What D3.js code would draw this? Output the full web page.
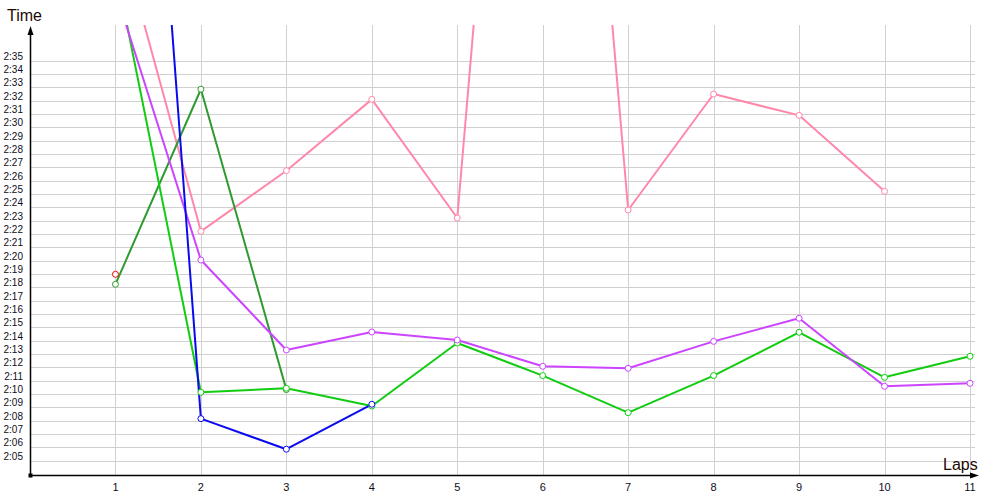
<!DOCTYPE html>
<html><head><meta charset="utf-8">
<script src="https://cdn.jsdelivr.net/npm/d3@7"></script>
<style>
html,body{margin:0;padding:0;background:#fff;}
svg{display:block;}
text{font-family:"Liberation Sans",Arial,sans-serif;}
</style></head>
<body>
<svg id="chart" width="1000" height="500"></svg>
<script>
// ---- data (lap times in seconds) ----
const laps = [1,2,3,4,5,6,7,8,9,10,11];
const yTickValues = [125,126,127,128,129,130,131,132,133,134,135,136,137,138,139,140,141,142,143,144,145,146,147,148,149,150,151,152,153,154,155];
const yTickLabels = ["2:05","2:06","2:07","2:08","2:09","2:10","2:11","2:12","2:13","2:14","2:15","2:16","2:17","2:18","2:19","2:20","2:21","2:22","2:23","2:24","2:25","2:26","2:27","2:28","2:29","2:30","2:31","2:32","2:33","2:34","2:35"];
const pinkTimes      = [165.6, 142.2, 146.75, 152.1, 143.2, 218.6, 143.8, 152.5, 150.9, 145.2, null];
const darkGreenTimes = [138.23, 152.86, 130.33, null, null, null, null, null, null, null, null];
const lightGreenTimes= [162.0, 130.13, 130.43, 129.1, 133.83, 131.38, 128.6, 131.38, 134.63, 131.25, 132.83];
const purpleTimes    = [160.2, 140.05, 133.3, 134.65, 134.05, 132.08, 131.93, 133.95, 135.68, 130.58, 130.8];
const blueTimes      = [214.7, 128.15, 125.86, 129.23, null, null, null, null, null, null, null];
const redTimes       = [138.98, null, null, null, null, null, null, null, null, null, null];

const series = [
  {values: redTimes, color: "#ff0000"},
  {values: pinkTimes, color: "#ff88aa"},
  {values: darkGreenTimes, color: "#2f9a2f"},
  {values: lightGreenTimes, color: "#11cc11"},
  {values: purpleTimes, color: "#cc44ff"},
  {values: blueTimes, color: "#0a0aee"}
];

(function(){
const svg = d3.select("#chart");
const pLeft = 30, pBottom = 475, pTop = 25, pRight = 975;
const x = d3.scaleLinear().domain([0, 11]).range([pLeft, 970]);
const y = d3.scaleLinear().domain([124, 155]).range([474, 60.7]);

// grid
const grid = svg.append("g").attr("stroke", "#d0d0d0").attr("stroke-width", 1).attr("shape-rendering", "crispEdges");
grid.selectAll("line.h").data(yTickValues).join("line").attr("class","h")
  .attr("x1", pLeft).attr("x2", pRight)
  .attr("y1", d => Math.round(y(d)) + 0.5).attr("y2", d => Math.round(y(d)) + 0.5);
grid.selectAll("line.v").data(laps).join("line").attr("class","v")
  .attr("x1", d => Math.round(x(d)) + 0.5).attr("x2", d => Math.round(x(d)) + 0.5)
  .attr("y1", pTop).attr("y2", pBottom);

// y tick labels
svg.append("g").selectAll("text").data(yTickValues).join("text")
  .attr("x", 23).attr("y", d => Math.round(y(d)) - 1)
  .attr("text-anchor", "end").attr("font-size", "10px").attr("fill", "#0d0d20")
  .text((d, i) => yTickLabels[i]);

// x tick labels
svg.append("g").selectAll("text").data(laps).join("text")
  .attr("x", d => x(d)).attr("y", 491)
  .attr("text-anchor", "middle").attr("font-size", "11px").attr("fill", "#0d0d20")
  .text(d => d);

// clip
svg.append("defs").append("clipPath").attr("id", "plotclip")
  .append("rect").attr("x", pLeft).attr("y", pTop).attr("width", 960).attr("height", pBottom - pTop);

const line = d3.line().defined(d => d.v != null).x(d => x(d.lap)).y(d => y(d.v));
const plot = svg.append("g").attr("clip-path", "url(#plotclip)");
series.forEach(s => {
  const pts = s.values.map((v, i) => ({lap: laps[i], v}));
  plot.append("path").datum(pts).attr("d", line)
    .attr("fill", "none").attr("stroke", s.color).attr("stroke-width", 2)
    .attr("stroke-linejoin", "round");
});
series.forEach(s => {
  const pts = s.values.map((v, i) => ({lap: laps[i], v})).filter(d => d.v != null && y(d.v) > pTop);
  plot.selectAll(null).data(pts).join("circle")
    .attr("cx", d => x(d.lap)).attr("cy", d => y(d.v)).attr("r", 3)
    .attr("fill", "#fff").attr("stroke", s.color).attr("stroke-width", 1);
});

// axes
const ax = svg.append("g");
ax.append("line").attr("x1", pLeft + 0.5).attr("x2", pLeft + 0.5).attr("y1", pBottom).attr("y2", 32)
  .attr("stroke", "#000").attr("stroke-width", 1.5);
ax.append("path").attr("d", `M${pLeft+0.5},26 L${pLeft-2.5},35 L${pLeft+3.5},35 Z`).attr("fill", "#000");
ax.append("line").attr("x1", pLeft).attr("x2", 972).attr("y1", pBottom + 0.5).attr("y2", pBottom + 0.5)
  .attr("stroke", "#000").attr("stroke-width", 1.5);
ax.append("path").attr("d", `M979,${pBottom+0.5} L970,${pBottom-2.5} L970,${pBottom+3.5} Z`).attr("fill", "#000");
ax.append("rect").attr("x", pLeft - 1.5).attr("y", pBottom - 1.5).attr("width", 4).attr("height", 4).attr("fill", "#000");

// axis titles
svg.append("text").attr("x", 7).attr("y", 21).attr("font-size", "16px").attr("fill", "#220800").text("Time");
svg.append("text").attr("x", 943).attr("y", 470).attr("font-size", "16px").attr("fill", "#220800").text("Laps");
})();
</script>
</body></html>
